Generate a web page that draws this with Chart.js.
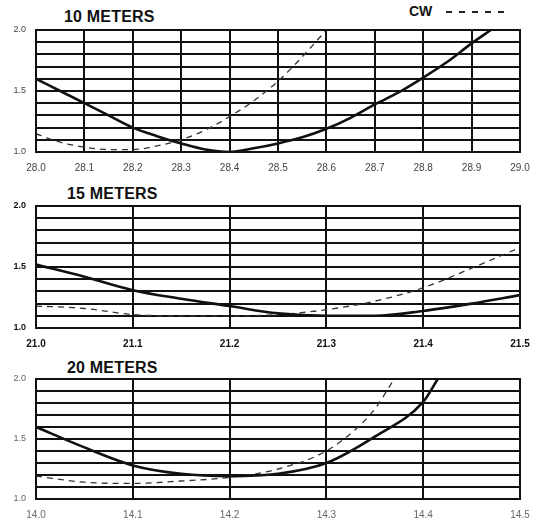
<!DOCTYPE html>
<html>
<head>
<meta charset="utf-8">
<script src="https://cdn.jsdelivr.net/npm/chart.js@4/dist/chart.umd.min.js"></script>
<style>
  html, body { margin:0; padding:0; background:#fff; }
  body { width:533px; height:523px; position:relative; overflow:hidden; font-family:"Liberation Sans", Arial, sans-serif; }
  .cv { position:absolute; left:0; width:533px; }
  .title { position:absolute; font-weight:bold; font-size:16px; color:#111; letter-spacing:0.2px; font-family:"Liberation Sans", Arial, sans-serif; }
  .cw { position:absolute; left:409px; top:3px; font-weight:bold; font-size:14px; color:#111; }
  .dash { position:absolute; left:446px; top:11px; width:64px; height:2px;
          background: repeating-linear-gradient(to right, #222 0px, #222 6px, transparent 6px, transparent 13px); }
</style>
</head>
<body>
<div class="cw">CW</div><div class="dash"></div>
<div class="title" style="left:64px;top:8px;">10 METERS</div>
<div class="title" style="left:67px;top:185px;">15 METERS</div>
<div class="title" style="left:67px;top:359px;">20 METERS</div>
<div class="cv" style="top:20px;height:158px;"><canvas id="c1"></canvas></div>
<div class="cv" style="top:196px;height:158px;"><canvas id="c2"></canvas></div>
<div class="cv" style="top:369px;height:156px;"><canvas id="c3"></canvas></div>
<script>
// ---- 10 meters ----
const ssbFreq10 = [28.0, 28.05, 28.1, 28.15, 28.2, 28.25, 28.3, 28.35, 28.4, 28.45, 28.5, 28.55, 28.6, 28.65, 28.7, 28.75, 28.8, 28.85, 28.9, 28.94];
const ssbSwr10  = [1.6, 1.5, 1.4, 1.3, 1.2, 1.13, 1.07, 1.02, 1.0, 1.03, 1.07, 1.12, 1.19, 1.28, 1.39, 1.49, 1.61, 1.74, 1.89, 2.0];
const cwFreq10  = [28.0, 28.05, 28.1, 28.15, 28.2, 28.25, 28.3, 28.35, 28.4, 28.45, 28.5, 28.55, 28.6];
const cwSwr10   = [1.15, 1.08, 1.04, 1.02, 1.02, 1.05, 1.1, 1.18, 1.29, 1.42, 1.58, 1.78, 2.0];
// ---- 15 meters ----
const ssbFreq15 = [21.0, 21.05, 21.1, 21.15, 21.2, 21.25, 21.3, 21.35, 21.4, 21.45, 21.5];
const ssbSwr15  = [1.52, 1.42, 1.31, 1.24, 1.18, 1.12, 1.1, 1.1, 1.14, 1.2, 1.27];
const cwFreq15  = [21.0, 21.05, 21.1, 21.15, 21.2, 21.25, 21.3, 21.35, 21.4, 21.45, 21.5];
const cwSwr15   = [1.18, 1.16, 1.11, 1.1, 1.1, 1.11, 1.15, 1.22, 1.33, 1.49, 1.66];
// ---- 20 meters ----
const ssbFreq20 = [14.0, 14.05, 14.1, 14.15, 14.2, 14.25, 14.3, 14.35, 14.4, 14.415];
const ssbSwr20  = [1.6, 1.43, 1.28, 1.21, 1.19, 1.21, 1.3, 1.52, 1.81, 2.0];
const cwFreq20  = [14.0, 14.05, 14.1, 14.15, 14.2, 14.25, 14.3, 14.33, 14.35, 14.37];
const cwSwr20   = [1.19, 1.14, 1.13, 1.15, 1.18, 1.25, 1.4, 1.58, 1.75, 2.0];
// ---- axes ----
const swrTickLabels = ['1.0', '1.5', '2.0'];
const bandRanges = [[28.0, 29.0], [21.0, 21.5], [14.0, 14.5]];

function pts(xs, ys) { return xs.map((x, i) => ({ x: x, y: ys[i] })); }

function makeChart(id, range, ssbX, ssbY, cwX, cwY, tickColor, tickWeight) {
  new Chart(document.getElementById(id), {
    type: 'line',
    data: {
      datasets: [
        { label: 'SSB', data: pts(ssbX, ssbY), borderColor: '#111', borderWidth: 2.6, pointRadius: 0, fill: false, cubicInterpolationMode: 'monotone' },
        { label: 'CW', data: pts(cwX, cwY), borderColor: '#333', borderWidth: 1.3, borderDash: [6, 5], pointRadius: 0, fill: false, cubicInterpolationMode: 'monotone' }
      ]
    },
    options: {
      responsive: true,
      maintainAspectRatio: false,
      animation: false,
      layout: { padding: { top: 10, right: 13, left: 0, bottom: 0 } },
      plugins: { legend: { display: false }, tooltip: { enabled: false }, title: { display: false } },
      scales: {
        x: {
          type: 'linear', min: range[0], max: range[1],
          afterFit: s => { s.height = 26; s.paddingLeft = 0; s.paddingRight = 0; },
          ticks: { stepSize: 0.1, autoSkip: false, maxRotation: 0, padding: 10, color: tickColor,
                   font: { size: 10, weight: tickWeight, family: 'Liberation Sans' },
                   callback: v => Number(v).toFixed(1) },
          grid: { color: '#111', lineWidth: 2, drawTicks: false },
          border: { color: '#111', width: 2 }
        },
        y: {
          min: 1.0, max: 2.0,
          afterFit: s => { s.width = 36; s.paddingTop = 0; s.paddingBottom = 0; },
          ticks: { stepSize: 0.1, autoSkip: false, padding: 10, color: tickColor,
                   font: { size: 9, weight: tickWeight, family: 'Liberation Sans' },
                   callback: v => { const t = Number(v).toFixed(1); return swrTickLabels.includes(t) ? t : ''; } },
          grid: { color: '#111', lineWidth: 2, drawTicks: false },
          border: { color: '#111', width: 2 }
        }
      }
    },
    plugins: [{
      id: 'frame',
      afterDraw(chart) {
        const a = chart.chartArea, c = chart.ctx;
        c.save(); c.strokeStyle = '#111'; c.lineWidth = 2;
        c.strokeRect(a.left, a.top, a.right - a.left, a.bottom - a.top);
        c.restore();
      }
    }]
  });
}

makeChart('c1', bandRanges[0], ssbFreq10, ssbSwr10, cwFreq10, cwSwr10, '#444', 'normal');
makeChart('c2', bandRanges[1], ssbFreq15, ssbSwr15, cwFreq15, cwSwr15, '#111', 'bold');
makeChart('c3', bandRanges[2], ssbFreq20, ssbSwr20, cwFreq20, cwSwr20, '#666', 'normal');
</script>
</body>
</html>
